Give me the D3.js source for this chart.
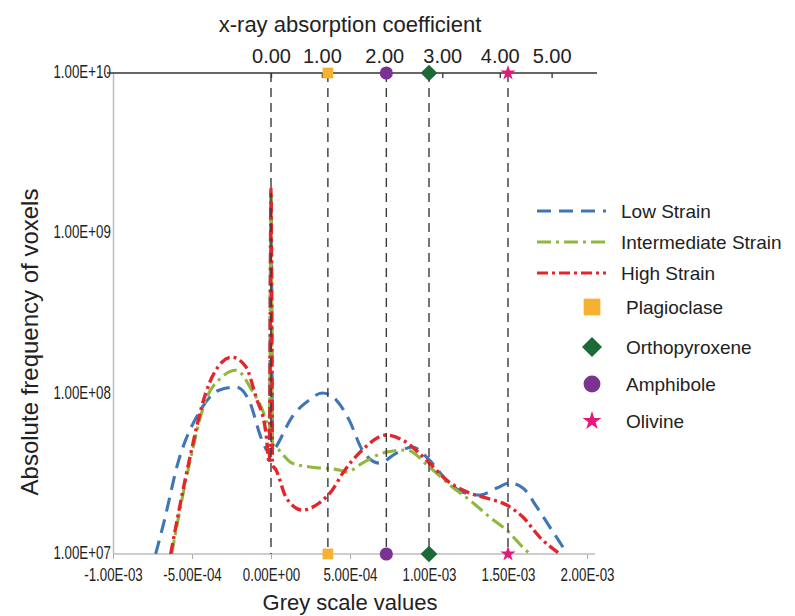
<!DOCTYPE html>
<html>
<head>
<meta charset="utf-8">
<script src="https://cdn.jsdelivr.net/npm/d3@7"></script>
<style>
  body { margin: 0; background: #fff; }
  svg { display: block; }
  text { font-family: "Liberation Sans", Arial, sans-serif; fill: #222; }
</style>
</head>
<body>
<svg id="chart" width="795" height="616"></svg>
<script>
// ---- axis ticks ----
const greyTicks = [-1e-3, -5e-4, 0, 5e-4, 1e-3, 1.5e-3, 2e-3];
const greyTickLabels = ["-1.00E-03", "-5.00E-04", "0.00E+00", "5.00E-04", "1.00E-03", "1.50E-03", "2.00E-03"];
const freqTicks = [1e7, 1e8, 1e9, 1e10];
const freqTickLabels = ["1.00E+07", "1.00E+08", "1.00E+09", "1.00E+10"];
const absTicks = [0, 1, 2, 3, 4, 5];
const absTickLabels = ["0.00", "1.00", "2.00", "3.00", "4.00", "5.00"];
// grey-scale value at which each absorption-coefficient tick sits
const absTickGrey = [0, 3.22e-4, 7.17e-4, 1.084e-3, 1.448e-3, 1.776e-3];

// ---- histogram series (grey value, voxel count) ----
const lowGrey = [-7.30e-4, -6.79e-4, -5.84e-4, -4.57e-4, -3.30e-4, -2.22e-4, -1.40e-4, -0.57e-4, -0.1e-4, 0, 0.1e-4,
  0.32e-4, 1.33e-4, 2.41e-4, 3.24e-4, 4.13e-4, 4.95e-4, 5.78e-4, 6.86e-4, 7.94e-4, 8.95e-4, 1.003e-3, 1.111e-3,
  1.213e-3, 1.321e-3, 1.429e-3, 1.511e-3, 1.594e-3, 1.683e-3, 1.765e-3, 1.848e-3, 1.873e-3];
const lowFreq = [1.0e7, 1.56e7, 3.85e7, 7.57e7, 1.05e8, 1.10e8, 9.12e7, 5.14e7, 4.26e7, 1.7e9, 4.3e7,
  4.65e7, 7.14e7, 9.12e7, 1.01e8, 9.12e7, 6.84e7, 4.45e7, 3.69e7, 4.26e7, 4.65e7, 3.85e7, 2.89e7,
  2.43e7, 2.33e7, 2.58e7, 2.77e7, 2.58e7, 1.96e7, 1.47e7, 1.10e7, 1.0e7];

const midGrey = [-6.29e-4, -5.21e-4, -4.13e-4, -3.11e-4, -2.22e-4, -1.21e-4, -0.32e-4, -0.1e-4, 0, 0.1e-4, 0.51e-4,
  1.33e-4, 2.60e-4, 4.32e-4, 4.76e-4, 5.78e-4, 7.30e-4, 8.57e-4, 1.003e-3, 1.149e-3, 1.257e-3, 1.384e-3,
  1.511e-3, 1.594e-3, 1.638e-3];
const midFreq = [1.0e7, 3.48e7, 9.12e7, 1.27e8, 1.40e8, 1.05e8, 6.84e7, 5.68e7, 1.8e9, 4.9e7, 4.45e7,
  3.69e7, 3.48e7, 3.34e7, 3.24e7, 3.69e7, 4.32e7, 4.45e7, 3.48e7, 2.61e7, 2.17e7, 1.70e7,
  1.35e7, 1.10e7, 1.0e7];

const highGrey = [-6.35e-4, -5.21e-4, -4.13e-4, -3.11e-4, -2.48e-4, -1.59e-4, -0.95e-4, -0.32e-4, -0.1e-4, 0, 0.1e-4,
  0.32e-4, 0.95e-4, 1.97e-4, 3.05e-4, 3.87e-4, 4.51e-4, 5.78e-4, 7.30e-4, 8.32e-4, 1.003e-3, 1.111e-3,
  1.257e-3, 1.365e-3, 1.492e-3, 1.594e-3, 1.702e-3, 1.829e-3];
const highFreq = [1.0e7, 3.69e7, 1.01e8, 1.57e8, 1.69e8, 1.47e8, 9.52e7, 5.68e7, 3.69e7, 1.9e9, 3.6e7,
  3.34e7, 2.26e7, 1.88e7, 2.08e7, 2.50e7, 3.16e7, 4.45e7, 5.52e7, 5.14e7, 3.69e7, 2.89e7,
  2.40e7, 2.23e7, 2.02e7, 1.70e7, 1.27e7, 1.0e7];

const seriesNames = ["Low Strain", "Intermediate Strain", "High Strain"];
const seriesColors = ["#3f76b7", "#8fb83f", "#e2262c"];
const seriesDash = ["14,8", "14,5,3,5", "11,4,3,4"];

// ---- mineral reference values ----
const minerals = ["Plagioclase", "Orthopyroxene", "Amphibole", "Olivine"];
const mineralGrey = [3.6e-4, 1.0e-3, 7.3e-4, 1.5e-3];
const mineralColors = ["#f6b133", "#1c6a35", "#7b3391", "#e5197b"];
const mineralShapes = ["square", "diamond", "circle", "star"];

// ---- layout ----
const svg = d3.select("#chart");
const plotL = 113, plotR = 587, plotT = 73, plotB = 554;
const condense = 0.74; // horizontal squeeze of numeric tick labels

const x = d3.scaleLinear().domain([-1e-3, 2e-3]).range([plotL, plotR]);
const y = d3.scaleLog().domain([1e7, 1e10]).range([plotB, plotT]);
const xTop = d3.scaleLinear().domain(absTicks).range(absTickGrey.map(x));

function symbolPath(shape, size) {
  if (shape === "square" || shape === "diamond") return d3.symbol(d3.symbolSquare, size)();
  if (shape === "circle") return d3.symbol(d3.symbolCircle, size)();
  return d3.symbol(d3.symbolStar, size)();
}
const markerSize = { square: 115, diamond: 140, circle: 135, star: 72 };
const legendMarkerSize = { square: 280, diamond: 200, circle: 225, star: 110 };

// y axis (left) – condensed tick labels
const yAxis = svg.append("g")
  .attr("transform", `translate(${plotL},0)`)
  .call(d3.axisLeft(y).tickValues(freqTicks).tickFormat((d, i) => freqTickLabels[i]).tickSize(0).tickPadding(3));
yAxis.select(".domain").attr("stroke", "#bdbdbd").attr("stroke-width", 1.5);
yAxis.selectAll(".tick text").attr("font-size", 18).attr("dy", "0.24em").attr("fill", "#222")
  .attr("transform", `scale(${condense},1)`);

// x axis (bottom) – condensed tick labels
const xAxis = svg.append("g")
  .attr("transform", `translate(0,${plotB})`)
  .call(d3.axisBottom(x).tickValues(greyTicks).tickFormat((d, i) => greyTickLabels[i]).tickSize(5).tickPadding(9));
xAxis.select(".domain").remove();
xAxis.append("line").attr("x1", plotL).attr("x2", plotR + 8).attr("stroke", "#bdbdbd").attr("stroke-width", 1.5);
xAxis.selectAll(".tick line").attr("stroke", "#aaa");
xAxis.selectAll(".tick text").attr("font-size", 18).attr("fill", "#222")
  .attr("transform", `scale(${condense},1)`);

// top axis: x-ray absorption coefficient
const tAxis = svg.append("g")
  .attr("transform", `translate(0,${plotT})`)
  .call(d3.axisTop(xTop).tickValues(absTicks).tickFormat((d, i) => absTickLabels[i]).tickSizeInner(-5).tickSizeOuter(0).tickPadding(10));
tAxis.select(".domain").remove();
tAxis.append("line").attr("x1", plotL - 6).attr("x2", plotR + 10).attr("stroke", "#333").attr("stroke-width", 1.4);
tAxis.selectAll(".tick line").attr("stroke", "#333").attr("stroke-width", 1.3);
tAxis.selectAll("text").attr("font-size", 20).attr("fill", "#222");

// axis titles
svg.append("text").attr("x", 350).attr("y", 32).attr("text-anchor", "middle")
  .attr("font-size", 22).text("x-ray absorption coefficient");
svg.append("text").attr("x", 350).attr("y", 610).attr("text-anchor", "middle")
  .attr("font-size", 22).text("Grey scale values");
svg.append("text").attr("transform", "translate(38,342) rotate(-90)").attr("text-anchor", "middle")
  .attr("font-size", 24).text("Absolute frequency of voxels");

// histogram curves
const series = [
  lowGrey.map((g, i) => [g, lowFreq[i]]),
  midGrey.map((g, i) => [g, midFreq[i]]),
  highGrey.map((g, i) => [g, highFreq[i]])
];
svg.append("clipPath").attr("id", "plot-clip").append("rect")
  .attr("x", plotL).attr("y", plotT).attr("width", plotR + 10 - plotL).attr("height", plotB - plotT);
const line = d3.line().x(d => x(d[0])).y(d => y(d[1])).curve(d3.curveMonotoneX);
svg.append("g").attr("clip-path", "url(#plot-clip)")
  .selectAll("path").data(series).join("path")
  .attr("d", line)
  .attr("fill", "none")
  .attr("stroke", (d, i) => seriesColors[i])
  .attr("stroke-width", (d, i) => i === 2 ? 3.4 : 3.1)
  .attr("stroke-dasharray", (d, i) => seriesDash[i])
  .attr("stroke-linejoin", "round");

// vertical reference lines at zero and at each mineral
const refGrey = [0].concat(mineralGrey);
svg.append("g").selectAll("line").data(refGrey).join("line")
  .attr("x1", d => x(d)).attr("x2", d => x(d))
  .attr("y1", plotT).attr("y2", plotB)
  .attr("stroke", "#3a3a3a").attr("stroke-width", 1.4).attr("stroke-dasharray", "9,6");

// mineral markers on both axes
[plotT, plotB].forEach(yy => {
  svg.append("g").selectAll("path").data(minerals).join("path")
    .attr("d", (d, i) => symbolPath(mineralShapes[i], markerSize[mineralShapes[i]]))
    .attr("transform", (d, i) => `translate(${x(mineralGrey[i])},${yy})` + (mineralShapes[i] === "diamond" ? " rotate(45)" : ""))
    .attr("fill", (d, i) => mineralColors[i]);
});

// legend
const legend = svg.append("g");
const lineRows = [211, 242, 273];
seriesNames.forEach((name, i) => {
  legend.append("line").attr("x1", 537).attr("x2", 606).attr("y1", lineRows[i]).attr("y2", lineRows[i])
    .attr("stroke", seriesColors[i]).attr("stroke-width", 3.2).attr("stroke-dasharray", seriesDash[i]);
  legend.append("text").attr("x", 621).attr("y", lineRows[i]).attr("dy", "0.35em")
    .attr("font-size", 19).text(name);
});
const markerRows = [307, 347, 384, 421];
minerals.forEach((name, i) => {
  const s = mineralShapes[i];
  legend.append("path").attr("d", symbolPath(s, legendMarkerSize[s]))
    .attr("transform", `translate(592,${markerRows[i]})` + (s === "diamond" ? " rotate(45)" : ""))
    .attr("fill", mineralColors[i]);
  legend.append("text").attr("x", 626).attr("y", markerRows[i]).attr("dy", "0.35em")
    .attr("font-size", 19).text(name);
});
</script>
</body>
</html>
